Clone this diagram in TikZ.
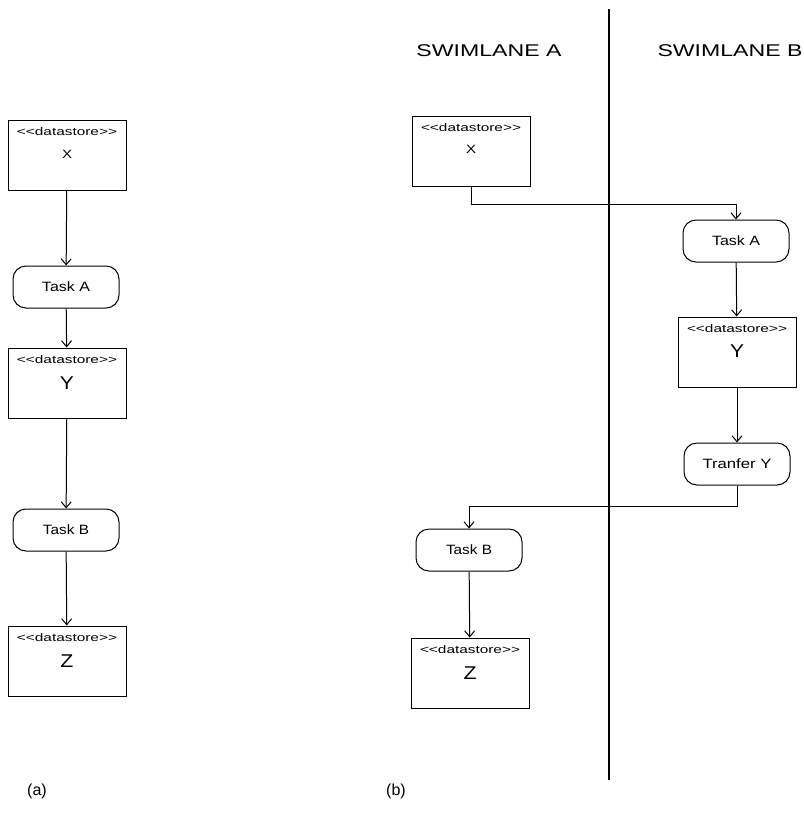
\documentclass[tikz,border=0pt]{standalone}
\usepackage{fontspec}
\usepackage{graphicx}
\setmainfont{Liberation Sans}
\usetikzlibrary{arrows.meta}
% set a text to a given width, keeping its natural height
\newcommand\fitw[2]{\resizebox{#1}{\height}{#2}}
% stereotype label, with the angle brackets kept apart
\newcommand\dstag{<{}<datastore>{}>}

\begin{document}
\begin{tikzpicture}[x=1pt,y=-1pt,
  store/.style={draw,line width=1pt,minimum width=118pt,minimum height=70pt,inner sep=0pt},
  task/.style={draw,line width=1pt,rounded corners=13pt,minimum width=106pt,minimum height=42pt,
               inner sep=0pt,font=\fontsize{13.5}{15}\selectfont},
  tag/.style={inner sep=0pt,font=\fontsize{11}{13}\selectfont},
  smallname/.style={inner sep=0pt,font=\fontsize{12}{14}\selectfont},
  bigname/.style={inner sep=0pt,font=\fontsize{18.5}{20}\selectfont},
  flow/.style={line width=1pt,-{Straight Barb[length=6pt,width=10pt]}},
  lanetitle/.style={inner sep=0pt,font=\fontsize{17}{19}\selectfont},
  caption/.style={inner sep=0pt,font=\fontsize{16}{18}\selectfont}]
\useasboundingbox (0,0) rectangle (804,831);

% ---------- (a): plain chain ----------
\node[store] (ax) at (67,155) {};
\node[tag] (axt) at (67,132) {\fitw{100pt}{\dstag}};
\node[smallname] (axn) at (67,154) {\fitw{10pt}{X}};

\node[task] (ata) at (66,287) {\fitw{48pt}{Task A}};

\node[store] (ay) at (67,383) {};
\node[tag] (ayt) at (67,360) {\fitw{100pt}{\dstag}};
\node[bigname] (ayn) at (67,383) {\fitw{14pt}{Y}};

\node[task] (atb) at (66,530) {\fitw{46pt}{Task B}};

\node[store] (az) at (67,661) {};
\node[tag] (azt) at (67,638) {\fitw{100pt}{\dstag}};
\node[bigname] (azn) at (67,661) {\fitw{13pt}{Z}};

\draw[flow] (ax) -- (ata);
\draw[flow] (ata) -- (ay);
\draw[flow] (ay) -- (atb);
\draw[flow] (atb) -- (az);

\node[caption] (capa) at (37,791) {(a)};

% ---------- (b): two swimlanes ----------
\coordinate (laneTop) at (609,9);
\coordinate (laneBottom) at (609,780);
\draw[line width=1.6pt] (laneTop) -- (laneBottom);
\node[lanetitle] (laneA) at (489,51) {\fitw{145pt}{SWIMLANE A}};
\node[lanetitle] (laneB) at (730,51) {\fitw{145pt}{SWIMLANE B}};

\node[store] (bx) at (471,151) {};
\node[tag] (bxt) at (471,128) {\fitw{100pt}{\dstag}};
\node[smallname] (bxn) at (471,149) {\fitw{10pt}{X}};

\node[task] (bta) at (736,241) {\fitw{48pt}{Task A}};

\node[store] (by) at (737,352) {};
\node[tag] (byt) at (737,329) {\fitw{100pt}{\dstag}};
\node[bigname] (byn) at (737,351) {\fitw{14pt}{Y}};

\node[task] (btr) at (737,464) {\fitw{69pt}{Tranfer Y}};

\node[task] (btb) at (469,550) {\fitw{46pt}{Task B}};

\node[store] (bz) at (470,673) {};
\node[tag] (bzt) at (470,650) {\fitw{100pt}{\dstag}};
\node[bigname] (bzn) at (470,673) {\fitw{13pt}{Z}};

\draw[flow] (bx.south) -- ++(0,18) -| (bta.north);
\draw[flow] (bta) -- (by);
\draw[flow] (by) -- (btr);
\draw[flow] (btr.south) -- ++(0,21) -| (btb.north);
\draw[flow] (btb) -- (bz);

\node[caption] (capb) at (396,791) {(b)};
\end{tikzpicture}
\end{document}
